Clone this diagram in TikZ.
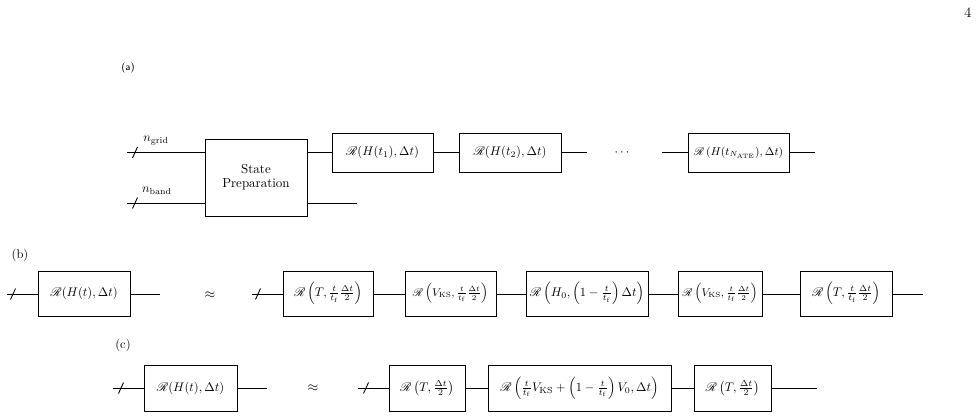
\documentclass[tikz,border=0pt]{standalone}
\usepackage{amsmath}
\usepackage{mathrsfs}
\begin{document}
\begin{tikzpicture}[x=0.8pt,y=-0.8pt,
  wire/.style={line width=0.7pt},
  gate/.style={draw, line width=0.7pt, inner sep=0pt, fill=white, font=\fontsize{10.4}{12}\selectfont},
  tight/.style={font=\fontsize{9.2}{11}\selectfont},
  ra/.style={gate, minimum height=31.2pt},
  rb/.style={gate, minimum height=36pt},
  rc/.style={gate, minimum height=36.8pt},
  lbl/.style={inner sep=0pt, font=\fontsize{10}{11}\selectfont}]
\useasboundingbox (0,0) rectangle (979,418);
\newcommand{\slashat}[1]{\draw[wire] ([shift={(-2.5,5.5)}]#1) -- ([shift={(2.5,-5.5)}]#1);}

\node[inner sep=0pt, font=\fontsize{11.5}{12}\selectfont] (pg) at (968,13) {4};

% ---------- (a)
\node[lbl, font=\sffamily\footnotesize] (la) at (128,68) {(a)};
\node[gate, minimum width=81.6pt, minimum height=61.6pt, align=center] (sp) at (256,177.5) {State\\[-1pt]Preparation};
\node[ra, minimum width=80.8pt] (r1) at (382.5,152.5) {$\mathscr{R}(H(t_1),\Delta t)$};
\node[ra, minimum width=81.6pt] (r2) at (510,152.5) {$\mathscr{R}(H(t_2),\Delta t)$};
\node[ra, tight, minimum width=80.8pt] (r3) at (738.5,152.5) {$\mathscr{R}\left(H(t_{N_{\mathrm{ATE}}}),\Delta t\right)$};
\node[inner sep=0pt] (dots) at (623,152.5) {$\cdots$};
\coordinate (ia1) at (127,152.5);
\coordinate (ia2) at (127,203);
\coordinate (sa1) at (135,152.5);
\coordinate (sa2) at (135,203);
\coordinate (oa2) at (357,203);
\coordinate (dl) at (587,152.5);
\coordinate (dr) at (662,152.5);
\coordinate (oa1) at (815,152.5);
\node[lbl] (ng) at (156,141) {$n_{\mathrm{grid}}$};
\node[lbl] (nb) at (157,191) {$n_{\mathrm{band}}$};
\draw[wire] (ia1) -- (ia1 -| sp.west);
\draw[wire] (ia2) -- (ia2 -| sp.west);
\slashat{sa1}
\slashat{sa2}
\draw[wire] (sp.east |- r1) -- (r1.west);
\draw[wire] (sp.east |- oa2) -- (oa2);
\draw[wire] (r1.east) -- (r2.west);
\draw[wire] (r2.east) -- (dl);
\draw[wire] (dr) -- (r3.west);
\draw[wire] (r3.east) -- (oa1);

% ---------- (b)
\node[lbl] (lb) at (20,255) {(b)};
\node[rb, minimum width=73.6pt] (b0) at (84,293.5) {$\mathscr{R}(H(t),\Delta t)$};
\node[rb, minimum width=72pt] (b1) at (328,293.5) {$\mathscr{R}\left(T,\frac{t}{t_{\mathrm{f}}}\frac{\Delta t}{2}\right)$};
\node[rb, tight, minimum width=72.8pt] (b2) at (450.5,293.5) {$\mathscr{R}\left(V_{\mathrm{KS}},\frac{t}{t_{\mathrm{f}}}\frac{\Delta t}{2}\right)$};
\node[rb, font=\fontsize{9.8}{11}\selectfont, minimum width=97.6pt] (b3) at (587,293.5) {$\mathscr{R}\left(H_0,\left(1-\frac{t}{t_{\mathrm{f}}}\right)\Delta t\right)$};
\node[rb, tight, minimum width=67.2pt] (b4) at (720,293.5) {$\mathscr{R}\left(V_{\mathrm{KS}},\frac{t}{t_{\mathrm{f}}}\frac{\Delta t}{2}\right)$};
\node[rb, minimum width=73.6pt] (b5) at (846,293.5) {$\mathscr{R}\left(T,\frac{t}{t_{\mathrm{f}}}\frac{\Delta t}{2}\right)$};
\node[inner sep=0pt, font=\fontsize{11}{12}\selectfont] (apb) at (210,295) {$\approx$};
\coordinate (ib0) at (7,294);
\coordinate (sb0) at (13,294);
\coordinate (ob0) at (160,294);
\coordinate (ib1) at (252,294);
\coordinate (sb1) at (258,294);
\coordinate (ob5) at (923,294);
\draw[wire] (ib0) -- (ib0 -| b0.west);
\slashat{sb0}
\draw[wire] (b0.east |- ob0) -- (ob0);
\draw[wire] (ib1) -- (ib1 -| b1.west);
\slashat{sb1}
\draw[wire] (b1.east |- ob0) -- (b2.west |- ob0);
\draw[wire] (b2.east |- ob0) -- (b3.west |- ob0);
\draw[wire] (b3.east |- ob0) -- (b4.west |- ob0);
\draw[wire] (b4.east |- ob0) -- (b5.west |- ob0);
\draw[wire] (b5.east |- ob5) -- (ob5);

% ---------- (c)
\node[lbl] (lc) at (123,345) {(c)};
\node[rc, minimum width=74.4pt] (c0) at (190.5,388) {$\mathscr{R}(H(t),\Delta t)$};
\node[rc, minimum width=60.8pt] (c1) at (427,388) {$\mathscr{R}\left(T,\frac{\Delta t}{2}\right)$};
\node[rc, minimum width=146.4pt] (c2) at (579.5,388) {$\mathscr{R}\left(\frac{t}{t_{\mathrm{f}}}V_{\mathrm{KS}}+\left(1-\frac{t}{t_{\mathrm{f}}}\right)V_0,\Delta t\right)$};
\node[rc, minimum width=61.6pt] (c3) at (732.5,388) {$\mathscr{R}\left(T,\frac{\Delta t}{2}\right)$};
\node[inner sep=0pt, font=\fontsize{11}{12}\selectfont] (apc) at (313,388) {$\approx$};
\coordinate (ic0) at (113,388);
\coordinate (sc0) at (121,388);
\coordinate (oc0) at (267,388);
\coordinate (ic1) at (358,388);
\coordinate (sc1) at (366,388);
\coordinate (oc3) at (817,388);
\draw[wire] (ic0) -- (c0.west);
\slashat{sc0}
\draw[wire] (c0.east) -- (oc0);
\draw[wire] (ic1) -- (c1.west);
\slashat{sc1}
\draw[wire] (c1.east) -- (c2.west);
\draw[wire] (c2.east) -- (c3.west);
\draw[wire] (c3.east) -- (oc3);
\end{tikzpicture}
\end{document}
